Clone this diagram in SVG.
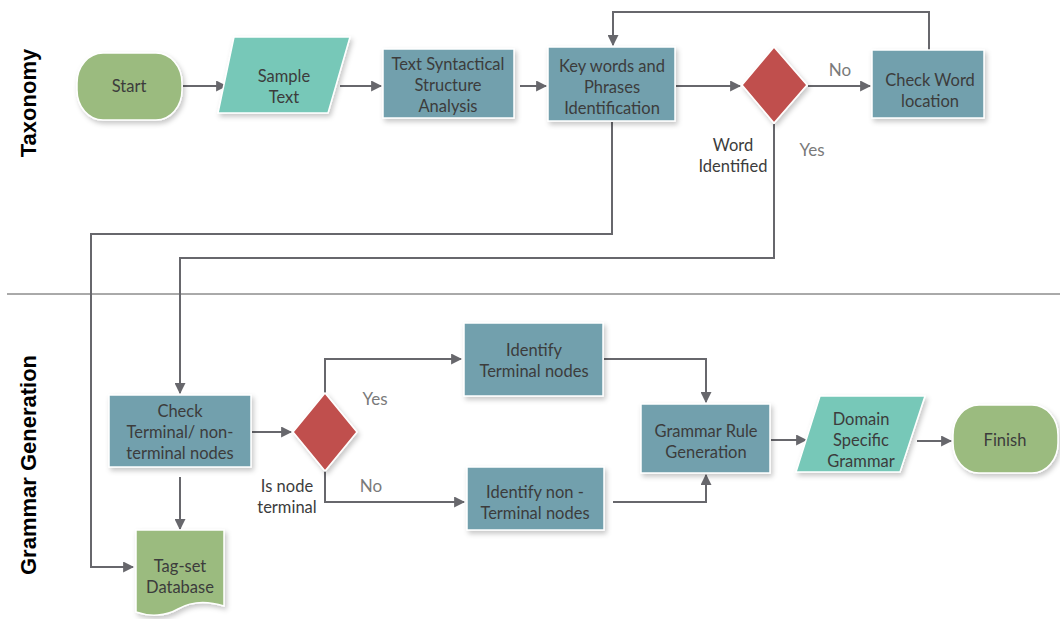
<svg xmlns="http://www.w3.org/2000/svg" width="1060" height="619" viewBox="0 0 1060 619">
  <defs>
    <filter id="shadow" x="-20%" y="-20%" width="150%" height="150%">
      <feDropShadow dx="2" dy="3" stdDeviation="2.5" flood-color="#000" flood-opacity="0.22"/>
    </filter>
    <marker id="arrow" viewBox="0 0 10 10" refX="9" refY="5" markerWidth="5.5" markerHeight="5.5" orient="auto" markerUnits="strokeWidth">
      <path d="M0,0 L10,5 L0,10 z" fill="#67676c"/>
    </marker>
    <style>
      .proc { fill: #72a0ad; stroke: #ffffff; stroke-width: 1.5; filter: url(#shadow); }
      .term { fill: #9bbb7f; stroke: #ffffff; stroke-width: 1.5; filter: url(#shadow); }
      .data { fill: #77c8b8; stroke: #ffffff; stroke-width: 1.5; filter: url(#shadow); }
      .dec  { fill: #c0504d; stroke: #ffffff; stroke-width: 1.5; filter: url(#shadow); }
      .lbl  { font-family: "Lato", "Liberation Sans", sans-serif; font-size: 16.5px; fill: #3c3c3c; text-anchor: middle; }
      .cond { font-family: "Lato", "Liberation Sans", sans-serif; font-size: 17px; fill: #7a7a7a; text-anchor: middle; }
      .lane { font-family: "Liberation Sans", Arial, sans-serif; font-size: 22px; font-weight: bold; fill: #000000; text-anchor: middle; }
      .conn { fill: none; stroke: #67676c; stroke-width: 2; }
    </style>
  </defs>

  <rect width="1060" height="619" fill="#ffffff"/>

  <!-- lane titles and divider -->
  <text class="lane" transform="translate(36,103) rotate(-90)">Taxonomy</text>
  <text class="lane" transform="translate(36,465) rotate(-90)">Grammar Generation</text>
  <line x1="7" y1="294" x2="1060" y2="294" stroke="#555555" stroke-width="1"/>

  <!-- connectors -->
  <g id="connectors">
    <path class="conn" d="M183,86 L226,86" marker-end="url(#arrow)"/>
    <path class="conn" d="M340,86 L381,86" marker-end="url(#arrow)"/>
    <path class="conn" d="M520,86 L546,86" marker-end="url(#arrow)"/>
    <path class="conn" d="M676,86 L740,86" marker-end="url(#arrow)"/>
    <path class="conn" d="M808,86 L870,86" marker-end="url(#arrow)"/>
    <path class="conn" d="M929,50 L929,12 L613,12 L613,45" marker-end="url(#arrow)"/>
    <path class="conn" d="M774,124 L774,258 L180,258 L180,393" marker-end="url(#arrow)"/>
    <path class="conn" d="M612,122 L612,234 L91,234 L91,567 L133,567" marker-end="url(#arrow)"/>
    <path class="conn" d="M252,432 L291,432" marker-end="url(#arrow)"/>
    <path class="conn" d="M180,477 L180,529" marker-end="url(#arrow)"/>
    <path class="conn" d="M325,393 L325,359 L461,359" marker-end="url(#arrow)"/>
    <path class="conn" d="M325,471 L325,502 L464,502" marker-end="url(#arrow)"/>
    <path class="conn" d="M604,359 L706,359 L706,402" marker-end="url(#arrow)"/>
    <path class="conn" d="M613,502 L706,502 L706,475" marker-end="url(#arrow)"/>
    <path class="conn" d="M771,440 L806,440" marker-end="url(#arrow)"/>
    <path class="conn" d="M917,441 L951,441" marker-end="url(#arrow)"/>
  </g>

  <!-- condition labels -->
  <text class="cond" x="840" y="76">No</text>
  <text class="cond" x="812" y="156">Yes</text>
  <text class="cond" x="375" y="405">Yes</text>
  <text class="cond" x="371" y="492">No</text>
  <text class="lbl" x="733" y="151"><tspan x="733">Word</tspan><tspan x="733" dy="21">Identified</tspan></text>
  <text class="lbl" x="287" y="492"><tspan x="287">Is node</tspan><tspan x="287" dy="21">terminal</tspan></text>

  <!-- nodes -->
  <g id="start">
    <rect class="term" x="77" y="53" width="105" height="67" rx="26" ry="30"/>
    <text class="lbl" x="129" y="92">Start</text>
  </g>

  <g id="sample-text">
    <polygon class="data" points="234,37 350,37 328,113 218,113"/>
    <text class="lbl" x="284" y="82"><tspan x="284">Sample</tspan><tspan x="284" dy="21">Text</tspan></text>
  </g>

  <g id="syntax-analysis">
    <rect class="proc" x="383" y="49" width="131" height="69"/>
    <text class="lbl" x="448" y="70"><tspan x="448">Text Syntactical</tspan><tspan x="448" dy="21">Structure</tspan><tspan x="448" dy="21">Analysis</tspan></text>
  </g>

  <g id="keywords">
    <rect class="proc" x="548" y="47" width="127" height="74"/>
    <text class="lbl" x="612" y="72"><tspan x="612">Key words and</tspan><tspan x="612" dy="21">Phrases</tspan><tspan x="612" dy="21">Identification</tspan></text>
  </g>

  <g id="word-identified">
    <polygon class="dec" points="774,47 807,85 774,123 742,85"/>
  </g>

  <g id="check-word">
    <rect class="proc" x="872" y="50" width="112" height="68"/>
    <text class="lbl" x="930" y="86"><tspan x="930">Check Word</tspan><tspan x="930" dy="21">location</tspan></text>
  </g>

  <g id="check-terminal">
    <rect class="proc" x="109" y="395" width="142" height="72"/>
    <text class="lbl" x="180" y="417"><tspan x="180">Check</tspan><tspan x="180" dy="21">Terminal/ non-</tspan><tspan x="180" dy="21">terminal nodes</tspan></text>
  </g>

  <g id="is-terminal">
    <polygon class="dec" points="325,393 357,432 325,471 293,432"/>
  </g>

  <g id="tagset-db">
    <path class="term" d="M136,530 L224,530 L224,606 C205,600 190,602 178,609 C166,616 150,617 136,612 Z"/>
    <text class="lbl" x="180" y="572"><tspan x="180">Tag-set</tspan><tspan x="180" dy="21">Database</tspan></text>
  </g>

  <g id="identify-terminal">
    <rect class="proc" x="464" y="323" width="139" height="73"/>
    <text class="lbl" x="534" y="356"><tspan x="534">Identify</tspan><tspan x="534" dy="21">Terminal nodes</tspan></text>
  </g>

  <g id="identify-nonterminal">
    <rect class="proc" x="467" y="467" width="137" height="63"/>
    <text class="lbl" x="535" y="498"><tspan x="535">Identify non -</tspan><tspan x="535" dy="21">Terminal nodes</tspan></text>
  </g>

  <g id="grammar-rule">
    <rect class="proc" x="641" y="404" width="129" height="69"/>
    <text class="lbl" x="706" y="437"><tspan x="706">Grammar Rule</tspan><tspan x="706" dy="21">Generation</tspan></text>
  </g>

  <g id="domain-grammar">
    <polygon class="data" points="820,396 925,396 900,472 796,472"/>
    <text class="lbl" x="861" y="425"><tspan x="861">Domain</tspan><tspan x="861" dy="21">Specific</tspan><tspan x="861" dy="21">Grammar</tspan></text>
  </g>

  <g id="finish">
    <rect class="term" x="953" y="405" width="105" height="68" rx="26" ry="30"/>
    <text class="lbl" x="1005" y="446">Finish</text>
  </g>
</svg>
